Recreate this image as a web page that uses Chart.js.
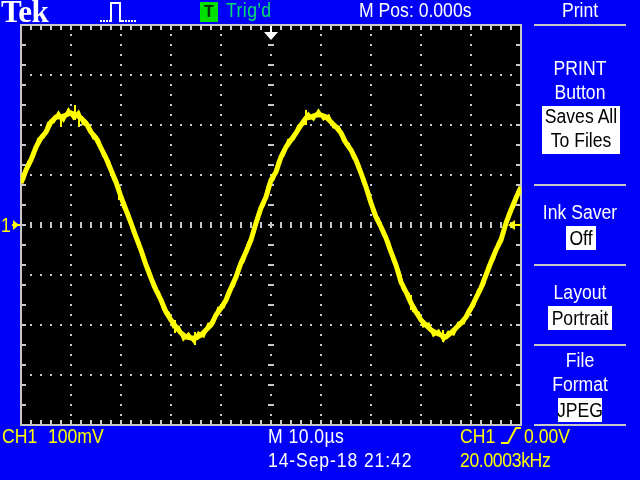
<!DOCTYPE html>
<html>
<head>
<meta charset="utf-8">
<script src="https://cdn.jsdelivr.net/npm/chart.js@4"></script>
<style>
  html, body { margin: 0; padding: 0; background: #0000f8; }
  #wrap { position: relative; width: 640px; height: 480px; overflow: hidden; background: #0000f8; }
  canvas { position: absolute; left: 0; top: 0; }
  .t { position: absolute; font: 20px "Liberation Sans", sans-serif; line-height: 24px; height: 24px; white-space: pre; color: #fff; transform: scaleX(.88); transform-origin: left center; }
  .c { width: 100px; text-align: center; transform-origin: center center; }
  .y { color: #ffff00; }
  .box { position: absolute; background: #fff; }
  .sep { position: absolute; left: 534px; width: 92px; height: 2px; background: #c8c8c8; }
  svg { position: absolute; left: 0; top: 0; }
</style>
</head>
<body>
<div id="wrap">
  <canvas id="scope" width="640" height="480"></canvas>

  <div class="t" style="left:1px;top:-3px;font:bold 31px/30px 'Liberation Serif',serif;height:30px;letter-spacing:-0.5px;transform:none">Tek</div>
  <div style="position:absolute;left:200px;top:2px;width:18px;height:20px;background:#00e000;color:#003000;font:bold 16px/20px 'Liberation Sans',sans-serif;text-align:center">T</div>
  <div class="t" style="left:226px;top:-2px;color:#00e070;letter-spacing:.5px">Trig'd</div>
  <div class="t" style="left:359px;top:-2px">M Pos: 0.000s</div>
  <div class="t c" style="left:530px;top:-2px">Print</div>

  <div class="sep" style="top:24px"></div>
  <div class="sep" style="top:184px"></div>
  <div class="sep" style="top:264px"></div>
  <div class="sep" style="top:344px"></div>
  <div class="sep" style="top:424px"></div>

  <div class="t c" style="left:530px;top:56px">PRINT</div>
  <div class="t c" style="left:530px;top:80px">Button</div>
  <div class="box" style="left:542px;top:106px;width:78px;height:48px"></div>
  <div class="t c" style="left:531px;top:104px;color:#000">Saves All</div>
  <div class="t c" style="left:531px;top:128px;color:#000">To Files</div>

  <div class="t c" style="left:530px;top:200px">Ink Saver</div>
  <div class="box" style="left:566px;top:226px;width:30px;height:24px"></div>
  <div class="t c" style="left:531px;top:226px;color:#000">Off</div>

  <div class="t c" style="left:530px;top:280px">Layout</div>
  <div class="box" style="left:548px;top:306px;width:64px;height:24px"></div>
  <div class="t c" style="left:530px;top:306px;color:#000">Portrait</div>

  <div class="t c" style="left:530px;top:348px">File</div>
  <div class="t c" style="left:530px;top:372px">Format</div>
  <div class="box" style="left:558px;top:398px;width:44px;height:24px"></div>
  <div class="t c" style="left:530px;top:398px;color:#000">JPEG</div>

  <div class="t y" style="left:2px;top:424px">CH1</div>
  <div class="t y" style="left:48px;top:424px">100mV</div>
  <div class="t" style="left:268px;top:424px;letter-spacing:.5px">M 10.0µs</div>
  <div class="t" style="left:268px;top:448px;letter-spacing:1px">14-Sep-18 21:42</div>
  <div class="t y" style="left:460px;top:424px">CH1</div>
  <div class="t y" style="left:524px;top:424px">0.00V</div>
  <div class="t y" style="left:460px;top:448px;letter-spacing:-.4px">20.0003kHz</div>
  <div class="t y" style="left:1px;top:213px">1</div>

  <svg width="640" height="480">
    <path d="M100 21h10M122 21h14" fill="none" stroke="#fff" stroke-width="2" stroke-dasharray="2 1"/>
    <path d="M109 21h2V3h9V21h2" fill="none" stroke="#fff" stroke-width="2"/>
    <path d="M501 443h7l8-15h5" fill="none" stroke="#ffff00" stroke-width="2"/>
  </svg>
</div>

<script>
// 10.0us/div across, 100mV/div up
const timeUs = [-50,-49,-48,-47,-46,-45,-44,-43,-42,-41,-40,-39,-38,-37,-36,-35,-34,-33,-32,-31,-30,-29,-28,-27,-26,-25,
  -24,-23,-22,-21,-20,-19,-18,-17,-16,-15,-14,-13,-12,-11,-10,-9,-8,-7,-6,-5,-4,-3,-2,-1,0,
  1,2,3,4,5,6,7,8,9,10,11,12,13,14,15,16,17,18,19,20,21,22,23,24,25,
  26,27,28,29,30,31,32,33,34,35,36,37,38,39,40,41,42,43,44,45,46,47,48,49,50];

const traceMv = [84,110,130,156,174,186,206,216,216,220,224,220,214,204,186,174,154,134,110,86,56,30,4,-24,
  -50,-80,-106,-130,-150,-174,-190,-204,-216,-224,-226,-226,-220,-210,-200,-180,-166,-150,-126,-104,-76,-54,-30,
  4,34,56,90,106,136,156,170,184,200,214,216,220,220,216,206,196,184,164,150,130,104,76,44,16,-4,-26,
  -54,-80,-114,-134,-156,-174,-190,-200,-210,-216,-220,-224,-216,-206,-196,-184,-166,-146,-126,-100,-74,-50,-30,
  4,30,54,76];

// the rough edge of the band, read between the samples above
const edgeMv = [90,126,138,172,176,204,206,224,210,230,214,226,202,200,174,170,138,128,92,78,36,22,-16,
  -32,-70,-88,-124,-134,-168,-176,-204,-204,-228,-218,-232,-216,-222,-198,-196,-166,-164,-132,-122,-84,-72,-36,-18,
  24,40,80,92,128,140,170,172,198,202,222,212,228,212,218,196,196,168,162,134,122,84,66,24,12,-20,
  -34,-72,-90,-130,-138,-172,-176,-202,-198,-220,-212,-230,-214,-218,-196,-196,-170,-162,-130,-120,-82,-68,-34,
  -18,22,36,70];

// noise spikes sticking out of the trace, pairs with a null between
const spikeTimeUs = [-39.2,-39.2,null,-38.4,-38.4,null,-42,-42,null,-19.2,-19.2,null,-15.2,-15.2,null,-30.4,-30.4,null,7,7,null,28,28,null,34.4,34.4];
const spikeMv = [240,210,null,196,220,null,196,220,null,-216,-190,null,-240,-214,null,78,50,null,230,200,null,-140,-170,null,-234,-210];

const xMin = -50, xMax = 50, xDiv = 10;
const yMin = -400, yMax = 400, yDiv = 100;
const gridColor = '#c8c8c8';

// frame, edge ticks and the center crosshair ticks, all through the scales
const graticule = {
  id: 'graticule',
  beforeDraw(chart) {
    const { ctx, chartArea: a } = chart;
    ctx.fillStyle = '#000';
    ctx.fillRect(a.left, a.top, a.width, a.height);
  },
  beforeDatasetsDraw(chart) {
    const { ctx, chartArea: a, scales: { x, y } } = chart;
    ctx.fillStyle = gridColor;
    for (let t = xMin + 2; t < xMax; t += 2) {
      const px = Math.round(x.getPixelForValue(t)) - 1;
      ctx.fillRect(px, a.top, 2, 5);
      ctx.fillRect(px, a.bottom - 5, 2, 5);
      ctx.fillRect(px, y.getPixelForValue(0) - 3, 2, 6);
    }
    for (let v = yMin + 40; v < yMax; v += 40) {
      const py = Math.round(y.getPixelForValue(v)) - 1;
      ctx.fillRect(a.left, py, 5, 2);
      ctx.fillRect(a.right - 5, py, 5, 2);
      ctx.fillRect(x.getPixelForValue(0) - 3, py, 6, 2);
    }
    ctx.strokeStyle = gridColor;
    ctx.lineWidth = 2;
    ctx.strokeRect(a.left, a.top, a.width, a.height);
  },
  afterDatasetsDraw(chart) {
    const { ctx, chartArea: a, scales: { x, y } } = chart;
    const cx = x.getPixelForValue(0), cy = y.getPixelForValue(0);
    // trigger position, top
    ctx.fillStyle = '#fff';
    ctx.fillRect(cx - 1, a.top + 1, 2, 8);
    ctx.beginPath();
    ctx.moveTo(cx - 7, a.top + 7); ctx.lineTo(cx + 7, a.top + 7); ctx.lineTo(cx, a.top + 15);
    ctx.fill();
    // trigger level, right
    ctx.fillStyle = '#ffff00';
    ctx.fillRect(a.right - 11, cy - 1, 11, 2);
    ctx.beginPath();
    ctx.moveTo(a.right - 13, cy); ctx.lineTo(a.right - 6, cy - 5); ctx.lineTo(a.right - 6, cy + 5);
    ctx.fill();
    // channel 1 ground, left
    ctx.fillRect(a.left - 9, cy - 1, 8, 2);
    ctx.beginPath();
    ctx.moveTo(a.left - 2, cy); ctx.lineTo(a.left - 8, cy - 5); ctx.lineTo(a.left - 8, cy + 5);
    ctx.fill();
  }
};

const gridOpts = { color: gridColor, lineWidth: 2, drawTicks: false };
const dotBorder = { display: false, dash: [2, 8], dashOffset: 1 };

new Chart(document.getElementById('scope'), {
  type: 'line',
  data: {
    datasets: [
      {
        label: 'CH1',
        data: timeUs.map((t, i) => ({ x: t, y: traceMv[i] })),
        borderColor: '#ffff00',
        borderWidth: 5,
        pointRadius: 0,
        tension: 0
      },
      {
        label: 'CH1 edge',
        data: edgeMv.map((v, i) => ({ x: timeUs[i] + 0.5, y: v })),
        borderColor: '#ffff00',
        borderWidth: 3,
        pointRadius: 0,
        tension: 0
      },
      {
        label: 'CH1 noise',
        data: spikeTimeUs.map((t, i) => ({ x: t, y: spikeMv[i] })),
        borderColor: '#ffff00',
        borderWidth: 2,
        pointRadius: 0,
        spanGaps: false
      }
    ]
  },
  plugins: [graticule],
  options: {
    responsive: false,
    animation: false,
    parsing: false,
    layout: { padding: { left: 21, top: 25, right: 119, bottom: 55 } },
    plugins: { legend: { display: false }, tooltip: { enabled: false } },
    scales: {
      x: { type: 'linear', min: xMin, max: xMax, ticks: { display: false, stepSize: xDiv }, grid: gridOpts, border: dotBorder },
      y: { type: 'linear', min: yMin, max: yMax, ticks: { display: false, stepSize: yDiv }, grid: gridOpts, border: dotBorder }
    }
  }
});
</script>
</body>
</html>
